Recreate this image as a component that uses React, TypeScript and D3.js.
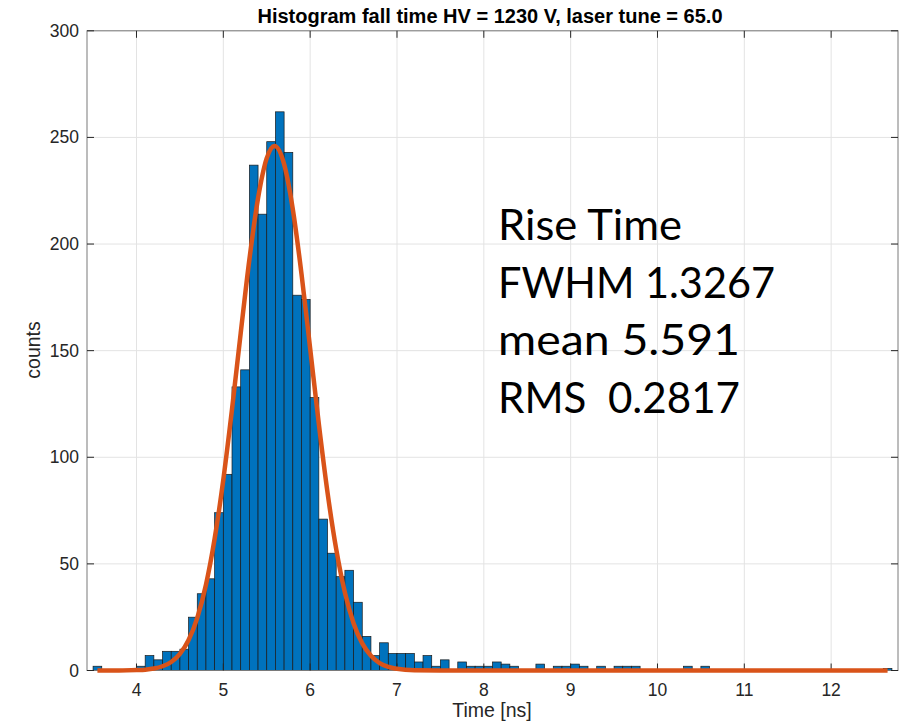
import React from "react";
import * as d3 from "d3";

// Histogram bins (left edge in ns, width 0.1) and counts
const binStarts = [
  3.5, 3.6, 3.7, 3.8, 3.9, 4.0, 4.1, 4.2, 4.3, 4.4, 4.5, 4.6, 4.7, 4.8, 4.9,
  5.0, 5.1, 5.2, 5.3, 5.4, 5.5, 5.6, 5.7, 5.8, 5.9, 6.0, 6.1, 6.2, 6.3, 6.4,
  6.5, 6.6, 6.7, 6.8, 6.9, 7.0, 7.1, 7.2, 7.3, 7.4, 7.5, 7.6, 7.7, 7.8, 7.9,
  8.0, 8.1, 8.2, 8.3, 8.4, 8.5, 8.6, 8.7, 8.8, 8.9, 9.0, 9.1, 9.2, 9.3, 9.4,
  9.5, 9.6, 9.7, 9.8, 9.9, 10.0, 10.1, 10.2, 10.3, 10.4, 10.5, 12.6,
];
const counts = [
  2, 0, 0, 0, 0, 2, 7, 5, 9, 9, 10, 25, 36, 43, 74,
  92, 133, 141, 237, 214, 248, 262, 243, 176, 174, 128, 71, 55, 44, 47,
  32, 16, 7, 13, 8, 8, 8, 4, 7, 2, 5, 0, 4, 2, 2,
  2, 4, 3, 2, 0, 0, 3, 0, 2, 2, 3, 2, 0, 2, 0,
  2, 2, 2, 0, 0, 0, 0, 0, 2, 0, 2, 1,
];
const binWidth = 0.1;

const fitX = [
  3.55, 3.8, 4.0, 4.1, 4.2, 4.3, 4.4, 4.5, 4.6, 4.7, 4.8, 4.9, 5.0, 5.1, 5.2,
  5.3, 5.4, 5.5, 5.59, 5.7, 5.8, 5.9, 6.0, 6.1, 6.2, 6.3, 6.4, 6.5, 6.6, 6.7,
  6.8, 6.9, 7.0, 7.2, 7.5, 12.65,
];
const fitY = [
  0, 0, 0.2, 0.4, 0.9, 2.0, 4.0, 7.8, 14.3, 24.7, 40.2, 61.8, 89.5, 122.5, 158.2,
  192.7, 221.5, 240.3, 246, 237.5, 216.4, 186.1, 151.0, 115.6, 83.5, 56.9, 36.6, 22.2, 12.7, 6.9,
  3.5, 1.7, 0.8, 0.1, 0, 0,
];

const xTicks = [4, 5, 6, 7, 8, 9, 10, 11, 12];
const yTicks = [0, 50, 100, 150, 200, 250, 300];

const titleText = "Histogram fall time HV = 1230 V, laser tune = 65.0";
const xLabel = "Time [ns]";
const yLabel = "counts";
const annotation = ["Rise Time", "FWHM 1.3267", "mean 5.591", "RMS  0.2817"];

export default function App() {
  const W = 909;
  const H = 725;
  const left = 87;
  const right = 898;
  const top = 30.8;
  const bottom = 670.5;

  const x = d3.scaleLinear().domain([3.43, 12.77]).range([left, right]);
  const y = d3.scaleLinear().domain([0, 300]).range([bottom, top]);

  const bins = binStarts
    .map((s, i) => ({ s, c: counts[i] }))
    .filter((b) => b.c > 0);

  const line = d3
    .line<number>()
    .x((_, i) => x(fitX[i]))
    .y((d) => y(d))
    .curve(d3.curveMonotoneX);

  const axisColor = "#262626";
  const gridColor = "#e3e3e3";
  const font = "'Liberation Sans', Arial, Helvetica, sans-serif";
  const annWidths = [184, 277, 242, 242];

  return (
    <svg
      width={W}
      height={H}
      style={{ position: "absolute", left: 0, top: 0, display: "block", background: "#fff" }}
    >
      <rect x={0} y={0} width={W} height={H} fill="#fff" />
      {/* grid */}
      {xTicks.map((t) => (
        <line key={"gx" + t} x1={x(t)} x2={x(t)} y1={top} y2={bottom} stroke={gridColor} strokeWidth={1} />
      ))}
      {yTicks.map((t) => (
        <line key={"gy" + t} x1={left} x2={right} y1={y(t)} y2={y(t)} stroke={gridColor} strokeWidth={1} />
      ))}
      {/* bars */}
      {bins.map((b) => (
        <rect
          key={"b" + b.s}
          x={x(b.s)}
          y={y(b.c)}
          width={x(b.s + binWidth) - x(b.s)}
          height={y(0) - y(b.c)}
          fill="#0072BD"
          stroke="#1a1a1a"
          strokeWidth={0.7}
        />
      ))}
      {/* axes box */}
      <rect x={left} y={top} width={right - left} height={bottom - top} fill="none" stroke="#7a7a7a" strokeWidth={1} />
      {/* ticks */}
      {xTicks.map((t) => (
        <g key={"tx" + t}>
          <line x1={x(t)} x2={x(t)} y1={bottom} y2={bottom - 7} stroke={axisColor} strokeWidth={1} />
          <line x1={x(t)} x2={x(t)} y1={top} y2={top + 7} stroke={axisColor} strokeWidth={1} />
          <text x={x(t)} y={695.5} textAnchor="middle" fontFamily={font} fontSize={17.5} fill={axisColor}>
            {t}
          </text>
        </g>
      ))}
      {yTicks.map((t) => (
        <g key={"ty" + t}>
          <line x1={left} x2={left + 7} y1={y(t)} y2={y(t)} stroke={axisColor} strokeWidth={1} />
          <line x1={right} x2={right - 7} y1={y(t)} y2={y(t)} stroke={axisColor} strokeWidth={1} />
          <text x={79} y={y(t) + 6} textAnchor="end" fontFamily={font} fontSize={17.5} fill={axisColor}>
            {t}
          </text>
        </g>
      ))}
      {/* fit curve */}
      <path d={line(fitY) || ""} fill="none" stroke="#D95319" strokeWidth={4.5} strokeLinejoin="round" />
      {/* title */}
      <text x={490} y={23} textAnchor="middle" fontFamily={font} fontWeight="bold" fontSize={20} fill="#000">
        {titleText}
      </text>
      {/* axis labels */}
      <text x={492} y={717} textAnchor="middle" fontFamily={font} fontSize={19.5} fill={axisColor}>
        {xLabel}
      </text>
      <text
        transform={`translate(40, 350) rotate(-90)`}
        textAnchor="middle"
        fontFamily={font}
        fontSize={19.5}
        fill={axisColor}
      >
        {yLabel}
      </text>
      {/* annotation */}
      {annotation.map((s, i) => (
        <text
          key={"a" + i}
          x={498}
          y={240 + i * 57.5}
          fontFamily="Lato, 'Open Sans', sans-serif"
          fontSize={43}
          fill="#000"
          textLength={annWidths[i]}
          lengthAdjust="spacingAndGlyphs"
          style={{ whiteSpace: "pre" }}
        >
          {s}
        </text>
      ))}
    </svg>
  );
}
